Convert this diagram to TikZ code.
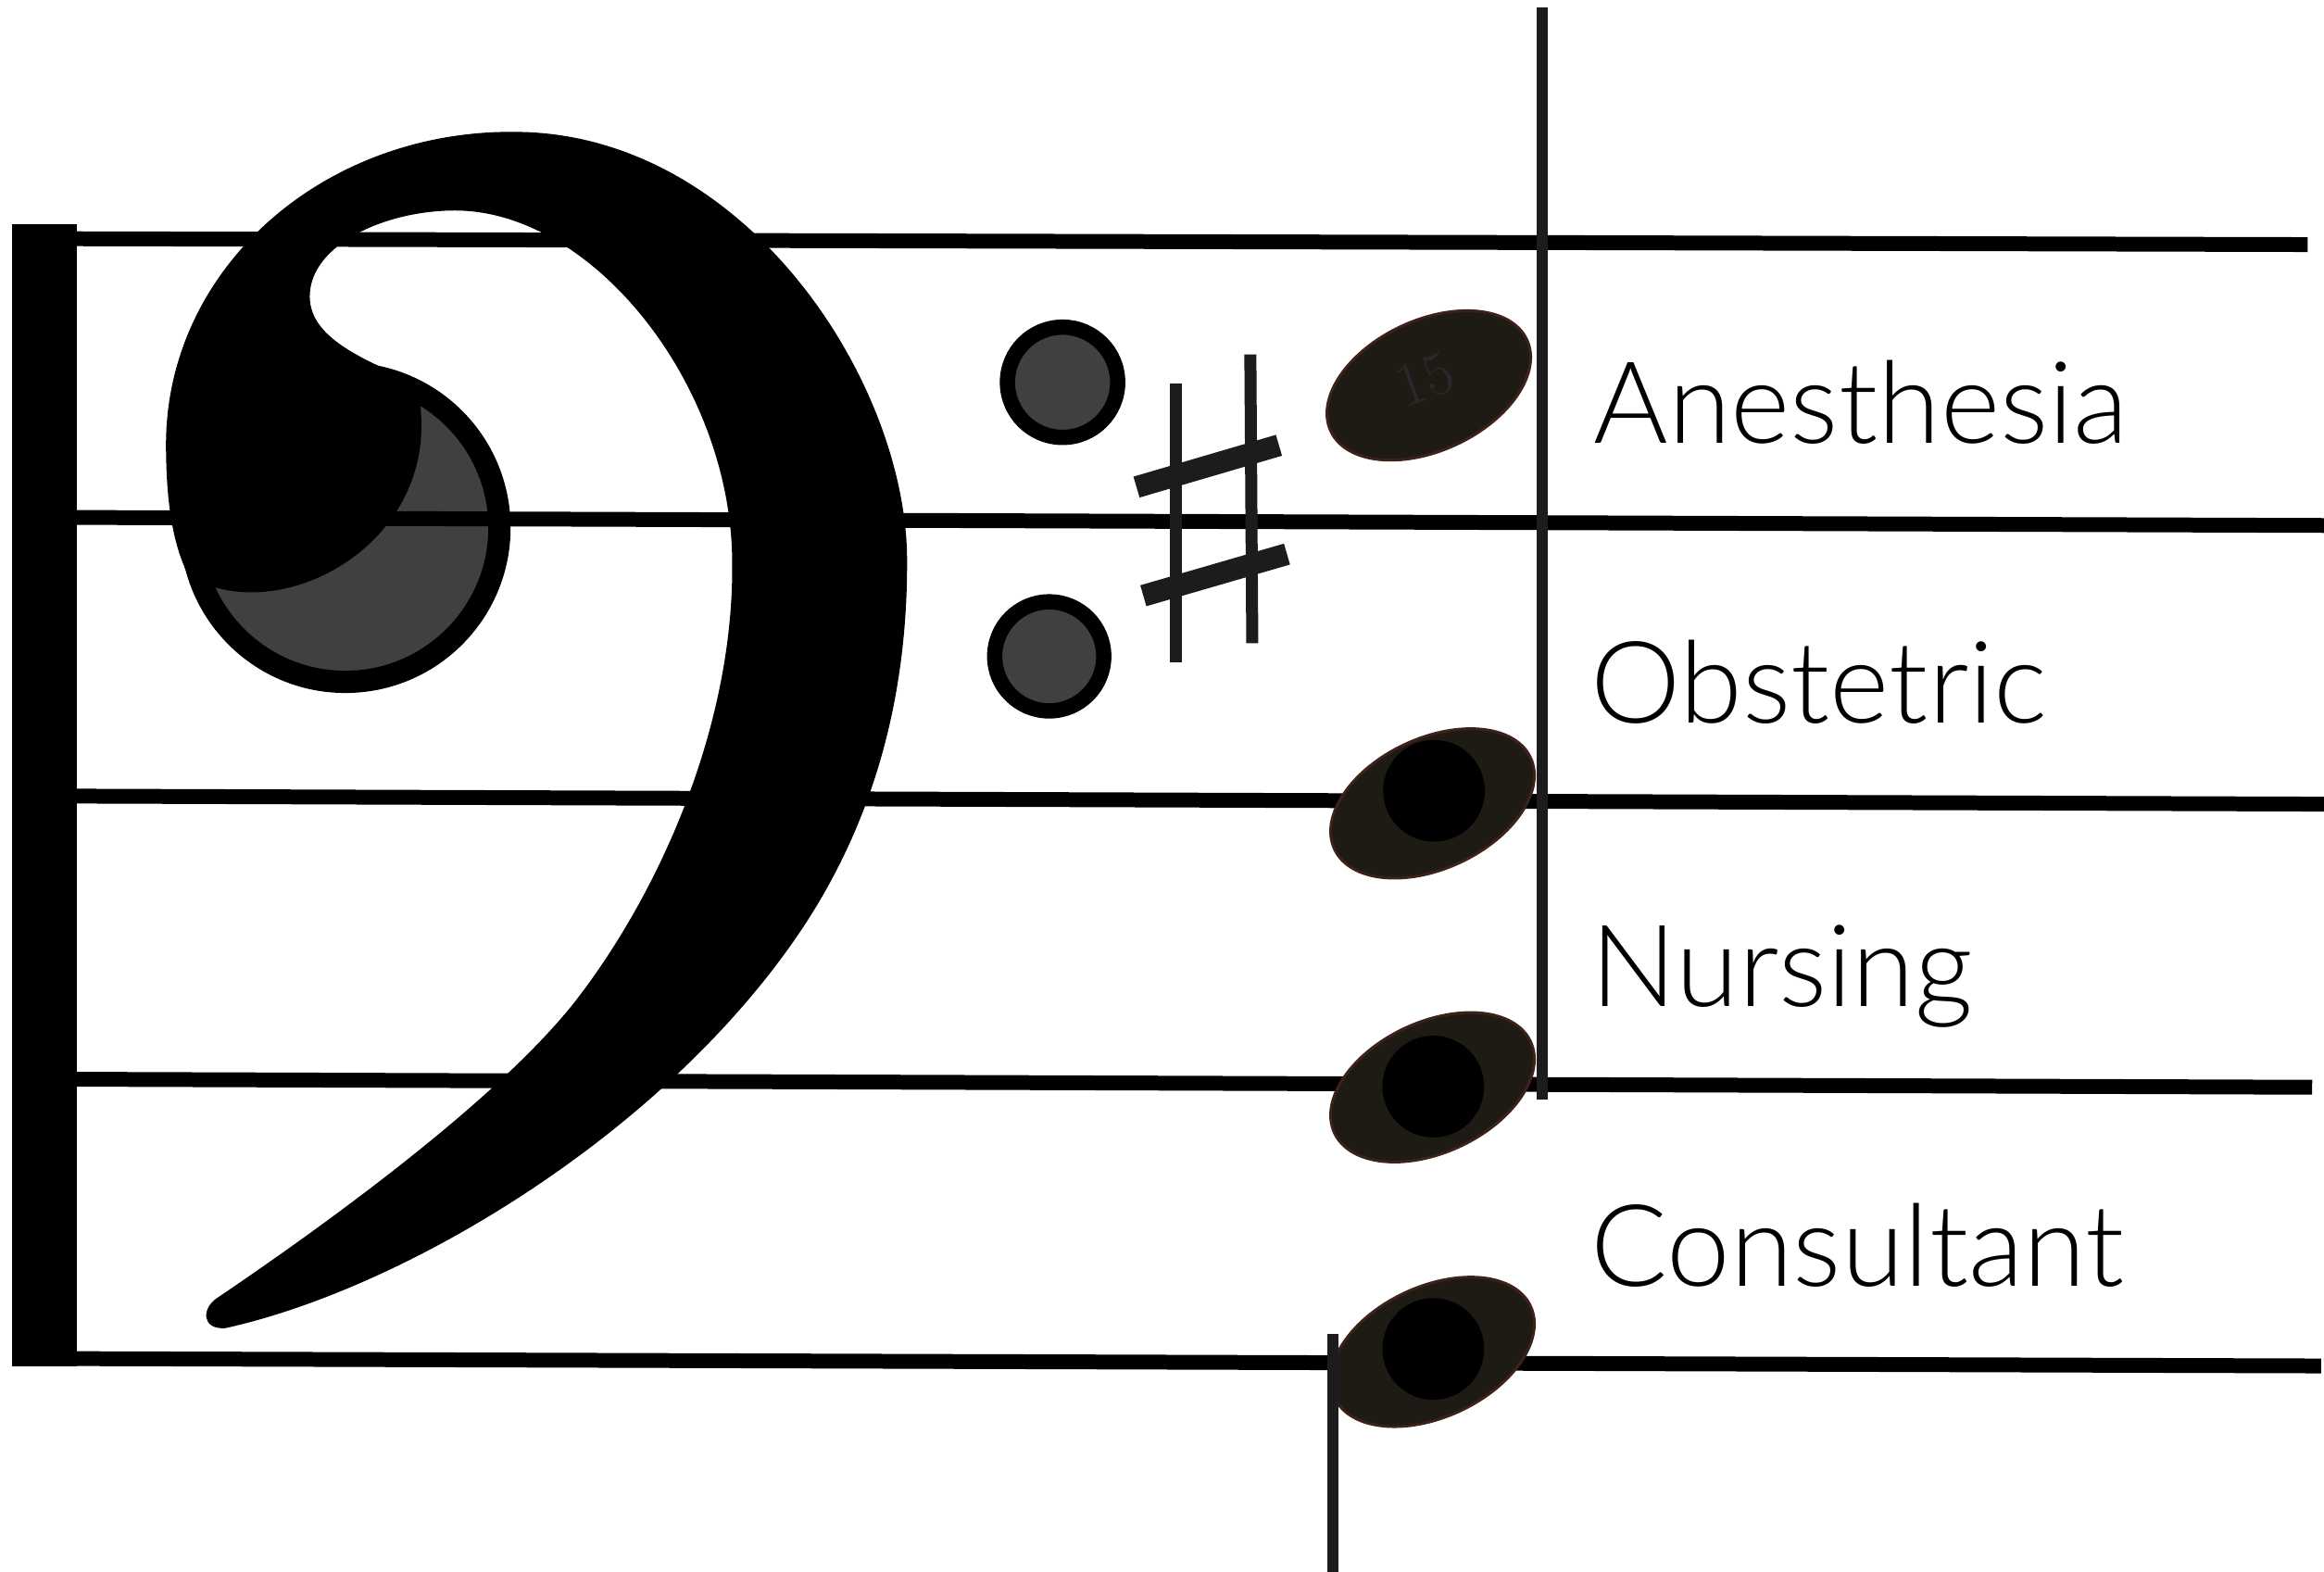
\documentclass[tikz,border=0pt]{standalone}
\usepackage{fontspec}
\newfontfamily\lbl{Lato Light}
\definecolor{ringgray}{HTML}{404040}
\definecolor{inkdark}{HTML}{1C1C1C}
\definecolor{notefill}{HTML}{1D1B14}
\definecolor{noteedge}{HTML}{3D2219}
\definecolor{faint}{HTML}{29292D}
\begin{document}
\begin{tikzpicture}[x=0.016cm,y=-0.016cm,
  staffline/.style={line width=0.16cm,black},
  stemline/.style={line width=0.12cm,inkdark},
  sharpv/.style={line width=0.13cm,inkdark},
  sharph/.style={line width=0.235cm,inkdark},
  dotring/.style={line width=0.165cm,black,fill=ringgray},
  headshape/.style={fill=notefill,draw=noteedge,line width=0.03cm},
  lab/.style={anchor=base west,inner sep=0pt,font=\lbl\fontsize{35}{40}\selectfont}]
\useasboundingbox (0,0) rectangle (1568,1060);
\fill[white] (0,0) rectangle (1568,1060);
% clef ring (under the staff lines)
\draw[line width=0.24cm,black,fill=ringgray] (233,356) circle[radius=104];
% staff lines
\draw[staffline] (30,161) -- (1557,165);
\draw[staffline] (30,349) -- (1570,354.5);
\draw[staffline] (30,537) -- (1570,542.5);
\draw[staffline] (30,728) -- (1560,733.5);
\draw[staffline] (30,916.5) -- (1566,921.5);
% left bar
\fill[black] (8,151) rectangle (52,922);
% bass clef body
\fill[black] (152,896)
  .. controls (270,870) and (440,770) .. (534,637)
  .. controls (590,558) and (612,470) .. (612,380)
  .. controls (613,260) and (505,92) .. (351,89)
  .. controls (220,86) and (112,180) .. (112,300)
  .. controls (112,340) and (117,368) .. (127,388)
  .. controls (185,425) and (295,370) .. (283.5,273)
  -- (297,264.7)
  .. controls (250,245) and (209,230) .. (209,200)
  .. controls (209,165) and (260,142) .. (307,142)
  .. controls (400,142) and (494,260) .. (494,380)
  .. controls (495,490) and (445,602) .. (388.5,675)
  .. controls (336,742) and (220,826) .. (146,876)
  .. controls (136,883) and (136,897) .. (152,896)
  -- cycle;
% dots
\draw[dotring] (716.9,257.9) circle[radius=37.2];
\draw[dotring] (707.9,442.8) circle[radius=36.8];
% sharp
\draw[sharpv] (793.4,258.6) -- (793.4,447);
\draw[sharpv] (843.6,239.1) -- (844.9,433.9);
\draw[sharph] (766.8,328.6) -- (862.9,300.4);
\draw[sharph] (771.4,401.9) -- (868.3,373.8);
% stems
\draw[stemline] (1040.8,5) -- (1040.8,742);
% note heads
\path[headshape,rotate around={25:(964,260)}] (964,260) ellipse[x radius=73,y radius=44];
\node[rotate=20,text=faint,inner sep=0pt,font=\fontsize{19}{19}\selectfont] (fifteen) at (961,256) {15};
\path[headshape,rotate around={25:(966.5,542)}] (966.5,542) ellipse[x radius=73,y radius=44];
\fill[black] (967.5,533.5) circle[radius=34.3];
\path[headshape,rotate around={25:(966.5,733.5)}] (966.5,733.5) ellipse[x radius=73,y radius=44];
\fill[black] (967,733) circle[radius=34.3];
\path[headshape,rotate around={25:(966.5,912)}] (966.5,912) ellipse[x radius=73,y radius=44];
\fill[black] (967,910) circle[radius=34.3];
\draw[stemline] (899,900) -- (899,1065);
% labels
\node[lab] (anes) at (1075,299) {Anesthesia};
\node[lab] (obst) at (1073,487.5) {Obstetric};
\node[lab] (nurs) at (1073,679) {Nursing};
\node[lab] (cons) at (1073,867.5) {Consultant};
\end{tikzpicture}
\end{document}
